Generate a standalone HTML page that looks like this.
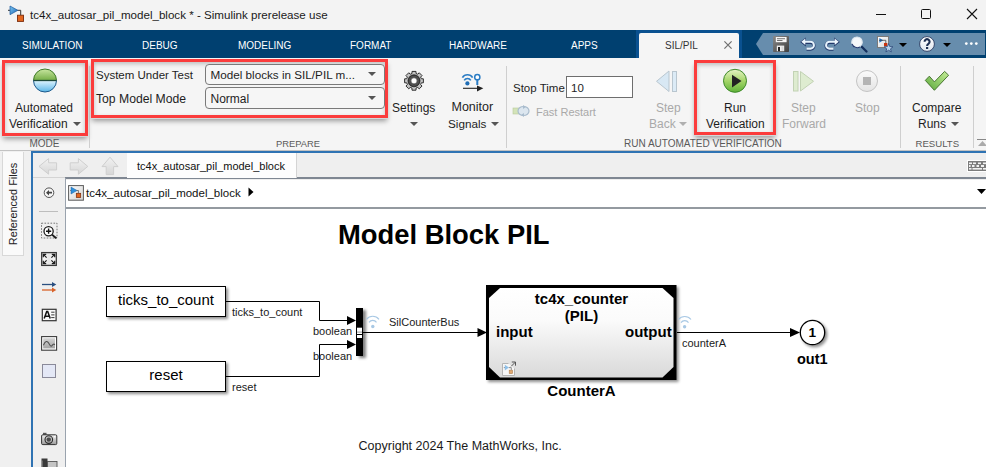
<!DOCTYPE html>
<html><head><meta charset="utf-8">
<style>
*{box-sizing:border-box;margin:0;padding:0}
html,body{width:986px;height:467px;overflow:hidden;background:#f0f0f0;font-family:"Liberation Sans",sans-serif;color:#000}
.a{position:absolute;white-space:nowrap;line-height:normal}
svg.a{overflow:visible}
.tab{color:#fff;font-size:10px;top:40px}
.rl{font-size:12px;color:#1e1e1e}
.r1{top:100.6px}.r2{top:116.5px}
.sm{font-size:11.5px}
.sec{font-size:9.8px;color:#5a5a5a;top:137.9px}
.vdiv{width:1px;background:#cfcfcf;top:66px;height:82px}
.redbox{border:3px solid #fb3c3c;box-shadow:0 1px 0 #d4d8d8, 0 4px 5px -1px rgba(0,0,0,.38), inset 0 2px 4px rgba(0,0,0,.22)}
.combo{border:1px solid #7a7a7a;border-radius:4px;background:#f6f6f6;height:21px}
.dis{color:#a9a9a9}
.lbl{font-size:11px;color:#1a1a1a}
.blk{font-size:15px;font-weight:bold}
.dd{width:0;height:0;border-left:4px solid transparent;border-right:4px solid transparent;border-top:4px solid #555}
</style></head><body>
<!-- ============ title bar ============ -->
<div class="a" style="left:0;top:0;width:986px;height:30px;background:#f3f3f3"></div>
<svg class="a" style="left:4px;top:2px" width="26" height="24" viewBox="4 2 26 24">
<defs><linearGradient id="gTi" x1="0" y1="0" x2="1" y2="1"><stop offset="0" stop-color="#7cc8f4"/><stop offset="1" stop-color="#1a62b0"/></linearGradient></defs>
<path d="M8 10.3 H10 M17.5 10.3 H20.7 V15" fill="none" stroke="#333" stroke-width="1"/>
<path d="M10 6 L17.9 10.3 L10 14.7Z" fill="url(#gTi)" stroke="#1b5a9e" stroke-width="0.7"/>
<rect x="17.5" y="15.2" width="6" height="6.2" fill="#e2661f" stroke="#7a2a0a" stroke-width="0.9"/>
</svg>
<div class="a" style="left:30px;top:8.3px;font-size:11.6px;color:#1a1a1a">tc4x_autosar_pil_model_block * - Simulink prerelease use</div>
<div class="a" style="left:876px;top:14px;width:10px;height:1px;background:#111"></div>
<div class="a" style="left:921px;top:9px;width:10px;height:10px;border:1px solid #111;border-radius:1.5px"></div>
<svg class="a" style="left:966px;top:8px" width="12" height="12" viewBox="0 0 12 12"><path d="M1 1L11 11M11 1L1 11" stroke="#111" stroke-width="1.1"/></svg>

<!-- ============ tabs ============ -->
<div class="a" style="left:0;top:30px;width:986px;height:28px;background:#004070"></div>
<div class="a tab" style="left:22px">SIMULATION</div>
<div class="a tab" style="left:142px">DEBUG</div>
<div class="a tab" style="left:238px">MODELING</div>
<div class="a tab" style="left:350px">FORMAT</div>
<div class="a tab" style="left:449px">HARDWARE</div>
<div class="a tab" style="left:571px">APPS</div>
<div class="a" style="left:636px;top:30px;width:106px;height:28px;background:#0a5190"></div>
<div class="a" style="left:638.5px;top:33px;width:100.5px;height:25px;background:#f5f5f5;border-radius:2px 2px 0 0"></div>
<div class="a" style="left:665px;top:40px;font-size:10px;color:#333">SIL/PIL</div>
<svg class="a" style="left:723.5px;top:40.8px" width="8" height="8" viewBox="0 0 8 8"><path d="M0.4 0.4L7.6 7.6M7.6 0.4L0.4 7.6" stroke="#707070" stroke-width="1.2"/></svg>
<!-- quick access -->
<svg class="a" style="left:0;top:0" width="986" height="60" viewBox="0 0 986 60">
<path d="M763 33 H985 V55 H763 L756 44Z" fill="#678dad"/>
<!-- save -->
<defs><linearGradient id="gSv" x1="0" y1="0" x2="1" y2="1"><stop offset="0" stop-color="#8a8a8a"/><stop offset="1" stop-color="#3e3e3e"/></linearGradient></defs>
<rect x="773" y="36" width="16" height="16" rx="0.8" fill="url(#gSv)"/>
<rect x="775.8" y="37" width="10.8" height="5.2" fill="#f6f6f6"/>
<rect x="777" y="38.3" width="8" height="0.9" fill="#666"/>
<rect x="777" y="40.1" width="5.5" height="0.9" fill="#666"/>
<rect x="776.8" y="45.6" width="7.4" height="5.6" fill="#f0f0f0"/>
<rect x="778" y="47" width="2" height="4.2" fill="#222"/>
<rect x="781.5" y="46.5" width="2" height="4.5" fill="#d8d8d8"/>
<!-- undo -->
<path d="M805 42.3 H810.5 A3.4 3.4 0 0 1 810.5 49.1 H806.5" fill="none" stroke="#22386a" stroke-width="3.2"/>
<path d="M800.2 42 L805.8 37.4 V46.6Z" fill="#22386a"/>
<path d="M805 41.8 H810.5 A3.4 3.4 0 0 1 810.5 48.6 H806.5" fill="none" stroke="#e6f3fc" stroke-width="2.1"/>
<path d="M801.3 41.8 L805.3 38.5 V45.1Z" fill="#eef7fd"/>
<!-- redo -->
<path d="M835 42.3 H829.5 A3.4 3.4 0 0 0 829.5 49.1 H833.5" fill="none" stroke="#22386a" stroke-width="3.2"/>
<path d="M839.8 42 L834.2 37.4 V46.6Z" fill="#22386a"/>
<path d="M835 41.8 H829.5 A3.4 3.4 0 0 0 829.5 48.6 H833.5" fill="none" stroke="#e6f3fc" stroke-width="2.1"/>
<path d="M838.7 41.8 L834.7 38.5 V45.1Z" fill="#eef7fd"/>
<!-- search -->
<line x1="861.5" y1="46.5" x2="866.5" y2="51.5" stroke="#14305e" stroke-width="2.3" stroke-linecap="round"/>
<circle cx="857" cy="42.2" r="5.2" fill="#f4f7fa" stroke="#dfe8f0" stroke-width="1.2"/>
<path d="M852 44 A5.6 5.6 0 0 0 860 47" fill="none" stroke="#243a70" stroke-width="1.1"/>
<!-- model -->
<defs><linearGradient id="gMd" x1="0" y1="0" x2="1" y2="1"><stop offset="0" stop-color="#ffffff"/><stop offset="1" stop-color="#d8d8d8"/></linearGradient></defs>
<rect x="877.5" y="36.5" width="11" height="11" fill="url(#gMd)" stroke="#7a7a7a" stroke-width="1"/>
<path d="M879.4 37.9 L883.2 40.3 L879.4 42.8Z" fill="#1f78d0"/>
<path d="M879 40.3 H885.8 V43" fill="none" stroke="#444" stroke-width="0.8"/>
<rect x="884" y="43" width="3.3" height="3.2" fill="#c8320e"/>
<path d="M888.60 43.60 L889.78 46.58 L892.97 46.78 L890.50 48.82 L891.30 51.92 L888.60 50.20 L885.90 51.92 L886.70 48.82 L884.23 46.78 L887.42 46.58Z" fill="#b8d4ee" stroke="#2b4576" stroke-width="0.8" stroke-linejoin="round"/>
<path d="M899 43 H907 L903 47Z" fill="#000"/>
<!-- help -->
<defs><linearGradient id="gHp" x1="0" y1="0" x2="0" y2="1"><stop offset="0" stop-color="#ffffff"/><stop offset="1" stop-color="#dfe6ee"/></linearGradient></defs>
<circle cx="927" cy="44" r="7.4" fill="url(#gHp)" stroke="#2a3a60" stroke-width="0.9"/>
<path d="M924.6 41.8 A2.5 2.5 0 1 1 928.6 43.7 Q927.1 44.6 927.1 46.1" fill="none" stroke="#1e2f52" stroke-width="2.1"/>
<rect x="926" y="47" width="2.2" height="2" fill="#1e2f52"/>
<path d="M943 43 H951 L947 47Z" fill="#000"/>
<circle cx="966.3" cy="43.6" r="1.35" fill="#fff"/><circle cx="971.3" cy="43.6" r="1.35" fill="#fff"/><circle cx="976.3" cy="43.6" r="1.35" fill="#fff"/>
</svg>

<!-- ============ ribbon ============ -->
<div class="a" style="left:0;top:58px;width:986px;height:92px;background:#f5f5f5"></div>
<div class="a" style="left:0;top:150px;width:986px;height:1px;background:#c2c2c2"></div>

<!-- MODE -->
<div class="a redbox" style="left:2px;top:60px;width:86px;height:76px"></div>
<svg class="a" style="left:0;top:58px" width="90" height="40" viewBox="0 58 90 40">
<defs>
<linearGradient id="gG" x1="0" y1="0" x2="0" y2="1"><stop offset="0" stop-color="#c8e6a0"/><stop offset="1" stop-color="#74ad45"/></linearGradient>
<linearGradient id="gB" x1="0" y1="0" x2="0" y2="1"><stop offset="0" stop-color="#dff4ff"/><stop offset="1" stop-color="#5ab6e6"/></linearGradient>
</defs>
<path d="M33.5 80.5 A11.5 11.5 0 0 1 56.5 80.5Z" fill="url(#gG)" stroke="#3f7a2a" stroke-width="1"/>
<path d="M33.5 80.5 A11.5 11.5 0 0 0 56.5 80.5Z" fill="url(#gB)" stroke="#1f5a8c" stroke-width="1"/>
<line x1="33.5" y1="80.5" x2="56.5" y2="80.5" stroke="#1e4a3a" stroke-width="1.3"/>
</svg>
<div class="a rl r1" style="left:15px">Automated</div>
<div class="a rl r2" style="left:9px">Verification</div>
<div class="a dd" style="left:73px;top:122px"></div>
<div class="a sec" style="left:29.5px;font-size:10px;top:137.8px">MODE</div>
<div class="a vdiv" style="left:89px"></div>

<!-- PREPARE -->
<div class="a redbox" style="left:91px;top:59px;width:297px;height:59px"></div>
<div class="a rl sm" style="left:96px;top:68.6px">System Under Test</div>
<div class="a rl" style="left:96px;top:92.2px;font-size:12.2px">Top Model Mode</div>
<div class="a combo" style="left:205px;top:64px;width:180px"></div>
<div class="a combo" style="left:205px;top:87px;width:180px;height:22px"></div>
<div class="a rl" style="left:210.5px;top:68.4px;font-size:11.7px">Model blocks in SIL/PIL m...</div>
<div class="a rl" style="left:210.5px;top:92.2px;font-size:12px">Normal</div>
<div class="a dd" style="left:368px;top:72px"></div>
<div class="a dd" style="left:368px;top:96px"></div>
<svg class="a" style="left:400px;top:67px" width="28" height="28" viewBox="0 0 28 28">
<defs><radialGradient id="gR" cx="0.5" cy="0.5" r="0.5"><stop offset="0.45" stop-color="#9a9a9a"/><stop offset="0.75" stop-color="#555"/><stop offset="1" stop-color="#2a2a2a"/></radialGradient></defs>
<g transform="translate(14 13.8)">
<path d="M7.32,-2.03 L9.39,-2.00 L9.39,2.00 L7.32,2.03 L6.61,3.75 L8.05,5.22 L5.22,8.05 L3.75,6.61 L2.03,7.32 L2.00,9.39 L-2.00,9.39 L-2.03,7.32 L-3.75,6.61 L-5.22,8.05 L-8.05,5.22 L-6.61,3.75 L-7.32,2.03 L-9.39,2.00 L-9.39,-2.00 L-7.32,-2.03 L-6.61,-3.75 L-8.05,-5.22 L-5.22,-8.05 L-3.75,-6.61 L-2.03,-7.32 L-2.00,-9.39 L2.00,-9.39 L2.03,-7.32 L3.75,-6.61 L5.22,-8.05 L8.05,-5.22 L6.61,-3.75Z" fill="#c4c4c4" stroke="#303030" stroke-width="1" stroke-linejoin="round"/>
<circle r="6" fill="url(#gR)" stroke="#222" stroke-width="0.8"/>
<circle r="3.9" fill="#7a7a7a" stroke="#333" stroke-width="0.7"/>
<circle r="2.5" fill="#fff"/>
</g>
</svg>
<div class="a rl r1" style="left:392px">Settings</div>
<div class="a dd" style="left:410px;top:122px"></div>
<svg class="a" style="left:455px;top:68px" width="32" height="28" viewBox="455 68 32 28">
<path d="M462.4 77.6 A6 6 0 0 1 472.6 77.6" fill="none" stroke="#2a7cc4" stroke-width="1.7"/>
<path d="M464.2 80.4 A3.8 3.8 0 0 1 470.8 80.4" fill="none" stroke="#2a7cc4" stroke-width="1.6"/>
<circle cx="467.4" cy="83.4" r="2.1" fill="#1f6db5"/>
<circle cx="477.3" cy="77.2" r="2.6" fill="#fff" stroke="#2a7cc4" stroke-width="1.5"/>
<line x1="477.3" y1="79.8" x2="477.3" y2="85" stroke="#2a7cc4" stroke-width="2"/>
<line x1="463" y1="88.3" x2="477.5" y2="88.3" stroke="#222" stroke-width="1.1"/>
<path d="M477 85.6 L483.3 88.3 L477 91.4Z" fill="#222"/>
</svg>
<div class="a rl r1" style="left:451.5px;font-size:12.5px;top:100.2px">Monitor</div>
<div class="a rl r2" style="left:448px;font-size:11.7px;top:116.8px">Signals</div>
<div class="a dd" style="left:491px;top:122px"></div>
<div class="a sec" style="left:276px;font-size:9.4px;top:138.2px">PREPARE</div>
<div class="a vdiv" style="left:506px"></div>

<!-- RUN -->
<div class="a rl sm" style="left:513px;top:81.6px">Stop Time</div>
<div class="a" style="left:566px;top:76px;width:67px;height:22px;border:1px solid #6e6e6e;background:#fff"></div>
<div class="a rl sm" style="left:571px;top:81.6px">10</div>
<svg class="a" style="left:510px;top:102px" width="24" height="16" viewBox="510 102 24 16">
<rect x="513" y="108" width="6" height="6" fill="#d3e3b8" stroke="#b7c99a" stroke-width="0.6"/>
<ellipse cx="523.5" cy="111" rx="5.5" ry="4.5" fill="#dce6ef" stroke="#a9bccd" stroke-width="1.2"/>
<path d="M523 105 L526 107 L523 109Z" fill="#a9bccd"/>
<path d="M524 113 L521 115 L524 117Z" fill="#a9bccd"/>
</svg>
<div class="a rl dis" style="left:536px;top:105.6px;font-size:11px">Fast Restart</div>
<svg class="a" style="left:654px;top:69px" width="26" height="25" viewBox="654 69 26 25">
<path d="M669 71 V91.5 L656.5 81.3Z" fill="#d8e8f4" stroke="#b9c6cf" stroke-width="1"/>
<rect x="672.5" y="71.5" width="4" height="20" fill="#dcebf6" stroke="#b9c6cf" stroke-width="1"/>
</svg>
<div class="a rl r1 dis" style="left:656px">Step</div>
<div class="a rl r2 dis" style="left:649px">Back</div>
<div class="a dd" style="left:679px;top:122px;border-top-color:#b0b0b0"></div>
<div class="a redbox" style="left:694px;top:60px;width:82px;height:75px"></div>
<svg class="a" style="left:720px;top:66px" width="30" height="30" viewBox="720 66 30 30">
<defs><linearGradient id="gP" x1="0" y1="0" x2="0" y2="1"><stop offset="0" stop-color="#e6f3c6"/><stop offset="0.5" stop-color="#a6d66a"/><stop offset="1" stop-color="#5fb238"/></linearGradient></defs>
<circle cx="735" cy="80.8" r="11.5" fill="url(#gP)" stroke="#3f8a2a" stroke-width="1"/>
<path d="M732 74.8 L741.5 81 L732 87.5Z" fill="#222"/>
</svg>
<div class="a rl r1" style="left:724px">Run</div>
<div class="a rl r2" style="left:706px">Verification</div>
<svg class="a" style="left:790px;top:69px" width="26" height="25" viewBox="790 69 26 25">
<rect x="793.5" y="71.5" width="4.5" height="19.5" fill="#deecd0" stroke="#c2d2b4" stroke-width="1"/>
<path d="M800.5 71.5 V91 L813.5 81.3Z" fill="#deecd0" stroke="#c2d2b4" stroke-width="1"/>
</svg>
<div class="a rl r1 dis" style="left:791px">Step</div>
<div class="a rl r2 dis" style="left:782px">Forward</div>
<svg class="a" style="left:854px;top:68px" width="26" height="26" viewBox="854 68 26 26">
<defs><linearGradient id="gS" x1="0" y1="0" x2="0" y2="1"><stop offset="0" stop-color="#fbfbfb"/><stop offset="1" stop-color="#e4e4e4"/></linearGradient></defs>
<circle cx="867" cy="81" r="10.5" fill="url(#gS)" stroke="#c4c4c4" stroke-width="1"/>
<rect x="863" y="77" width="8" height="8" fill="#b4b4b4"/>
</svg>
<div class="a rl r1 dis" style="left:855px">Stop</div>
<div class="a sec" style="left:624px;font-size:10px;top:137.8px">RUN AUTOMATED VERIFICATION</div>
<div class="a vdiv" style="left:900px"></div>
<svg class="a" style="left:922px;top:68px" width="30" height="25" viewBox="922 68 30 25">
<defs><linearGradient id="gC" x1="1" y1="0" x2="0" y2="1"><stop offset="0" stop-color="#c6ee98"/><stop offset="1" stop-color="#5aa83a"/></linearGradient></defs>
<path d="M925.3 80.4 L929.3 76.2 L934.4 81.9 L944.6 71.4 L948.6 75.2 L934.4 90.3Z" fill="url(#gC)" stroke="#3a6a22" stroke-width="0.9" stroke-linejoin="round"/>
</svg>
<div class="a rl r1" style="left:912px">Compare</div>
<div class="a rl r2" style="left:918px">Runs</div>
<div class="a dd" style="left:951px;top:122px"></div>
<div class="a sec" style="left:915.5px;font-size:9.6px;top:138.1px">RESULTS</div>
<div class="a vdiv" style="left:973px"></div>
<svg class="a" style="left:976px;top:138px" width="10" height="10" viewBox="0 0 10 10"><path d="M1 1.5 H10" stroke="#888" stroke-width="1"/><path d="M2 8 L6.5 3 L11 8Z" fill="#aaa"/></svg>

<!-- ============ lower area ============ -->
<div class="a" style="left:0;top:151px;width:986px;height:316px;background:#f0f0f0"></div>
<div class="a" style="left:2px;top:152px;width:22px;height:104px;background:#fafafa;border:1px solid #d8d8d8;border-top:none"></div>
<div class="a" style="left:13px;top:203.5px;transform:translate(-50%,-50%) rotate(-90deg);font-size:10.9px;color:#222">Referenced Files</div>
<div class="a" style="left:31px;top:151px;width:955px;height:2px;background:#2f73b3"></div>
<div class="a" style="left:31px;top:151px;width:2px;height:316px;background:#2f73b3"></div>
<div class="a" style="left:33px;top:153px;width:953px;height:24px;background:#efefef"></div>
<div class="a" style="left:65px;top:177.4px;width:921px;height:1.6px;background:#7f8792"></div>
<div class="a" style="left:126.5px;top:153px;width:170px;height:25px;background:#fdfdfd;border-right:1px solid #d4d4d4"></div>
<div class="a" style="left:137px;top:160px;font-size:11px;color:#111">tc4x_autosar_pil_model_block</div>
<svg class="a" style="left:34px;top:153px" width="92" height="24" viewBox="34 153 92 24">
<defs><linearGradient id="gN" x1="0" y1="0" x2="0" y2="1"><stop offset="0" stop-color="#f2f2f2"/><stop offset="1" stop-color="#d6d6d6"/></linearGradient></defs>
<path d="M39 166.4 L48.6 158.6 V162.8 H56.6 V170 H48.6 V174.2Z" fill="url(#gN)" stroke="#cfcfcf" stroke-width="1"/>
<path d="M87.8 166.4 L78.4 158.6 V162.8 H70.2 V170 H78.4 V174.2Z" fill="url(#gN)" stroke="#cfcfcf" stroke-width="1"/>
<path d="M110 157.2 L118 166.6 H113.6 V174.6 H106.2 V166.6 H102Z" fill="url(#gN)" stroke="#cfcfcf" stroke-width="1"/>
</svg>
<svg class="a" style="left:966px;top:159px" width="20" height="14" viewBox="966 159 20 14">
<rect x="967" y="160" width="20" height="12" fill="#fff"/>
<rect x="968" y="161" width="19" height="10" fill="#7c7c7c"/>
<g fill="#f2f2f2">
<rect x="969" y="162.5" width="3" height="1.6"/><rect x="973" y="162.5" width="3" height="1.6"/><rect x="978" y="162.5" width="3" height="1.6"/><rect x="983" y="162.5" width="3" height="1.6"/>
<rect x="969" y="165" width="1.6" height="2"/><rect x="972" y="165" width="2.5" height="2"/><rect x="976.5" y="165" width="2.5" height="2"/><rect x="981" y="165" width="3" height="2"/>
<rect x="969" y="168" width="2.5" height="1.6"/><rect x="972.5" y="168" width="9.5" height="1.6"/><rect x="983" y="168" width="3" height="1.6"/>
</g>
</svg>
<!-- palette -->
<div class="a" style="left:33px;top:177px;width:32px;height:290px;background:#efefef;border-top:1px solid #d4d4d4"></div>
<div class="a" style="left:64.7px;top:178px;width:1.4px;height:289px;background:#9aa3ae"></div>
<svg class="a" style="left:34px;top:178px" width="31" height="289" viewBox="34 178 31 289">
<circle cx="49" cy="192.7" r="4.8" fill="#f6f6f6" stroke="#555" stroke-width="1"/>
<path d="M46 192.7 L49 190 V191.8 H52 V193.6 H49 V195.4Z" fill="#444"/>
<line x1="39" y1="211.5" x2="58" y2="211.5" stroke="#bdbdbd" stroke-width="1"/>
<rect x="41.5" y="223.2" width="15.5" height="14.8" fill="none" stroke="#555" stroke-width="0.8" stroke-dasharray="1.6 1.4"/>
<circle cx="48.6" cy="231.2" r="4.6" fill="#fff" stroke="#1a1a1a" stroke-width="1.3"/>
<path d="M46 231.2 H51.2 M48.6 228.6 V233.8" stroke="#111" stroke-width="1.4"/>
<line x1="52" y1="234.6" x2="56.3" y2="238.3" stroke="#1a1a1a" stroke-width="1.9"/>
<defs><linearGradient id="gFt" x1="0" y1="0" x2="1" y2="0"><stop offset="0" stop-color="#fafafa"/><stop offset="0.5" stop-color="#e6e6e6"/><stop offset="1" stop-color="#fafafa"/></linearGradient></defs>
<rect x="41.7" y="252.6" width="14.6" height="12.8" fill="url(#gFt)" stroke="#3a3a3a" stroke-width="1.3"/>
<path d="M43.3 257.3 V254.4 H46.2 M43.6 254.7 L46.6 257.7 M54.7 257.3 V254.4 H51.8 M54.4 254.7 L51.4 257.7 M43.3 260.8 V263.7 H46.2 M43.6 263.4 L46.6 260.4 M54.7 260.8 V263.7 H51.8 M54.4 263.4 L51.4 260.4" fill="none" stroke="#1a1a1a" stroke-width="1.2"/>
<path d="M42 284.5 H53" stroke="#2a4f80" stroke-width="1.3"/><path d="M52 282 L56.3 284.5 L52 287Z" fill="#2a4f80"/>
<path d="M42 290 H53" stroke="#d8632a" stroke-width="1.3"/><path d="M52 287.5 L56.3 290 L52 292.5Z" fill="#d8632a"/>
<rect x="42.3" y="309.3" width="13.8" height="11.4" fill="#fafafa" stroke="#333" stroke-width="1.2"/>
<path d="M44.2 318.6 L46.7 311.6 H47.7 L50.2 318.6 M45.3 316.2 H49.1" fill="none" stroke="#111" stroke-width="1.5"/>
<path d="M51.2 312.2 H54.5 M51.2 314.9 H54.5 M51.2 317.6 H54.5" stroke="#222" stroke-width="0.9"/>
<defs><linearGradient id="gIm" x1="0" y1="0" x2="0" y2="1"><stop offset="0" stop-color="#d4d4d4"/><stop offset="1" stop-color="#a4a4a4"/></linearGradient></defs>
<rect x="41.6" y="336.6" width="15" height="13.6" fill="#fff" stroke="#3c3c3c" stroke-width="1.1"/>
<rect x="43.2" y="338.2" width="11.8" height="10.2" fill="url(#gIm)"/>
<path d="M43.4 345.2 Q46.2 338.6 49 343.6 Q50.6 347.2 52 345.6 Q53.6 343.2 54.8 344.8" fill="none" stroke="#505050" stroke-width="1.1"/>
<rect x="42.5" y="364.5" width="13" height="13" fill="#e4e8f6" stroke="#8a8a9a" stroke-width="1"/>
<defs><linearGradient id="gCm" x1="0" y1="0" x2="0" y2="1"><stop offset="0" stop-color="#f0f0f0"/><stop offset="1" stop-color="#9c9c9c"/></linearGradient></defs>
<rect x="43" y="432.8" width="3.5" height="2.5" fill="#555"/>
<rect x="41.6" y="434.8" width="15.2" height="9.8" rx="1.2" fill="url(#gCm)" stroke="#333" stroke-width="1"/>
<circle cx="48.8" cy="439.6" r="3.8" fill="#bbb" stroke="#2a2a2a" stroke-width="1.1"/>
<circle cx="48.8" cy="439.6" r="2.2" fill="#4a4a4a"/>
<rect x="54" y="436.2" width="1.5" height="1.2" fill="#fff"/>
<rect x="41.5" y="458.5" width="6" height="10" fill="#3a3a3a"/>
<rect x="47.5" y="461.5" width="9.5" height="7" fill="#c4c4c4" stroke="#555" stroke-width="0.9"/>
<rect x="41.5" y="460.5" width="1" height="8" fill="#999"/>
</svg>
<!-- breadcrumb -->
<div class="a" style="left:66px;top:179px;width:920px;height:28px;background:#fff;border-top:1.5px solid #eeeeee"></div>
<div class="a" style="left:66px;top:207px;width:920px;height:2px;background:#949aa0"></div>
<svg class="a" style="left:66px;top:183px" width="20" height="20" viewBox="66 183 20 20">
<defs><linearGradient id="gI" x1="0" y1="0" x2="1" y2="1"><stop offset="0" stop-color="#fdfdfd"/><stop offset="1" stop-color="#d4d4d4"/></linearGradient></defs>
<rect x="68.6" y="185.6" width="14.8" height="14.6" fill="url(#gI)" stroke="#5a5a5a" stroke-width="1"/>
<path d="M70.2 190.5 H71.2 M76.6 190.5 H78.4 V193" fill="none" stroke="#444" stroke-width="0.7"/>
<path d="M71 187 L77 190.5 L71 194Z" fill="#2e90dc" stroke="#1a5fa0" stroke-width="0.5"/>
<rect x="76.3" y="193.3" width="4.4" height="4.2" fill="#e2661f" stroke="#7a2a0a" stroke-width="0.7"/>
</svg>
<div class="a" style="left:86px;top:186.8px;font-size:11.5px;color:#111">tc4x_autosar_pil_model_block</div>
<svg class="a" style="left:248px;top:187px" width="6" height="10" viewBox="0 0 6 10"><path d="M0.5 0.5 L5.5 5 L0.5 9.5Z" fill="#000"/></svg>
<svg class="a" style="left:977px;top:189px" width="9" height="6" viewBox="0 0 9 6"><path d="M0 0 H9 L4.5 5Z" fill="#000"/></svg>

<!-- ============ canvas ============ -->
<div class="a" style="left:66px;top:209px;width:920px;height:258px;background:#fff"></div>
<div class="a" style="left:338px;top:219.2px;font-size:27.4px;font-weight:bold">Model Block PIL</div>
<div class="a" style="left:358.6px;top:439.3px;font-size:12.5px;color:#1a1a1a">Copyright 2024 The MathWorks, Inc.</div>
<svg class="a" style="left:0;top:0" width="986" height="467" viewBox="0 0 986 467">
<defs>
<linearGradient id="gA" x1="0" y1="0" x2="0" y2="1"><stop offset="0" stop-color="#ffffff"/><stop offset="0.35" stop-color="#fbfbfb"/><stop offset="1" stop-color="#d9d9d9"/></linearGradient>
<filter id="sh" x="-10%" y="-10%" width="130%" height="140%"><feGaussianBlur in="SourceAlpha" stdDeviation="1.5"/><feOffset dx="2" dy="2"/><feComponentTransfer><feFuncA type="linear" slope="0.45"/></feComponentTransfer><feMerge><feMergeNode/><feMergeNode in="SourceGraphic"/></feMerge></filter>
<filter id="sh2" x="-50%" y="-10%" width="250%" height="130%"><feGaussianBlur in="SourceAlpha" stdDeviation="1.6"/><feOffset dx="2.5" dy="1.5"/><feComponentTransfer><feFuncA type="linear" slope="0.5"/></feComponentTransfer><feMerge><feMergeNode/><feMergeNode in="SourceGraphic"/></feMerge></filter>
</defs>
<rect x="106.5" y="286.5" width="119" height="30" fill="#fff" stroke="#000" stroke-width="1" filter="url(#sh)"/>
<rect x="106.5" y="361.5" width="119" height="30" fill="#fff" stroke="#000" stroke-width="1" filter="url(#sh)"/>
<path d="M226 301.5 H319.5 V320.5 H348" fill="none" stroke="#000" stroke-width="1"/>
<path d="M226 376.5 H319.5 V344.5 H348" fill="none" stroke="#000" stroke-width="1"/>
<path d="M347 316 L356 320.5 L347 325Z" fill="#000"/>
<path d="M347 340 L356 344.5 L347 349Z" fill="#000"/>
<rect x="356" y="308" width="7" height="48" fill="#000" filter="url(#sh2)"/>
<rect x="357" y="327.7" width="5" height="6.3" fill="#fff"/>
<rect x="357" y="331.6" width="5" height="1" fill="#9a9a9a"/>
<rect x="357" y="335" width="5" height="3" fill="#fff"/>
<path d="M363 332.5 H478" fill="none" stroke="#000" stroke-width="1"/>
<path d="M477.5 328 L487 332.5 L477.5 337Z" fill="#000"/>
<rect x="486" y="285" width="190.5" height="95" fill="#000" filter="url(#sh)"/>
<path d="M500 288 H662.5 L673.5 298 V367 L662.5 377.5 H500 L489 367 V298Z" fill="url(#gA)"/>
<g>
<path d="M508.5 363.5 H502.5 V375.5 H514.5 V368.5" fill="#f6f6f6" stroke="#b4b4b4" stroke-width="1"/>
<path d="M511.2 366.3 L515.3 362.2 M511.8 362 H515.5 V365.7" fill="none" stroke="#555" stroke-width="1"/>
<path d="M503.8 367.6 H505 M508.8 367.6 H511.3 V370" fill="none" stroke="#666" stroke-width="0.7"/>
<path d="M504.8 364.8 L509 367.6 L504.8 370.6Z" fill="#8fc0e8"/>
<rect x="509.2" y="370.2" width="3.4" height="3.4" fill="#e0a870" stroke="#b08050" stroke-width="0.6"/>
</g>
<path d="M677 332.5 H791" fill="none" stroke="#000" stroke-width="1"/>
<path d="M790 328 L800 332.5 L790 337Z" fill="#000"/>
<circle cx="812.5" cy="332.5" r="12.2" fill="#fff" stroke="#000" stroke-width="1.3" filter="url(#sh)"/>
<g fill="none" stroke="#a8c8e4" stroke-width="1.1">
<path d="M366.5 319.3 A8 8 0 0 1 379 319.3"/><path d="M369 322.4 A4.5 4.5 0 0 1 376.5 322.4"/>
<path d="M678.5 319.5 A8 8 0 0 1 691 319.5"/><path d="M681 322.6 A4.5 4.5 0 0 1 688.5 322.6"/>
</g>
<circle cx="372.8" cy="326.5" r="1.7" fill="#a8c8e4"/>
<circle cx="684.6" cy="326.7" r="1.7" fill="#a8c8e4"/>
</svg>
<div class="a" style="left:106px;top:291px;width:120px;text-align:center;font-size:15px">ticks_to_count</div>
<div class="a" style="left:106px;top:366px;width:120px;text-align:center;font-size:15px">reset</div>
<div class="a lbl" style="left:232px;top:306px">ticks_to_count</div>
<div class="a lbl" style="left:313px;top:325px">boolean</div>
<div class="a lbl" style="left:313px;top:350px">boolean</div>
<div class="a lbl" style="left:232px;top:381px">reset</div>
<div class="a lbl" style="left:389px;top:316px">SilCounterBus</div>
<div class="a lbl" style="left:682px;top:337px">counterA</div>
<div class="a blk" style="left:486px;top:290px;width:191px;text-align:center;line-height:17px">tc4x_counter<br>(PIL)</div>
<div class="a blk" style="left:496px;top:323px">input</div>
<div class="a blk" style="left:625px;top:323px">output</div>
<div class="a blk" style="left:486px;top:382px;width:191px;text-align:center">CounterA</div>
<div class="a" style="left:808.6px;top:324.6px;font-size:13.6px;font-weight:bold">1</div>
<div class="a" style="left:797px;top:350.6px;font-size:14.5px;font-weight:bold">out1</div>

</body></html>
